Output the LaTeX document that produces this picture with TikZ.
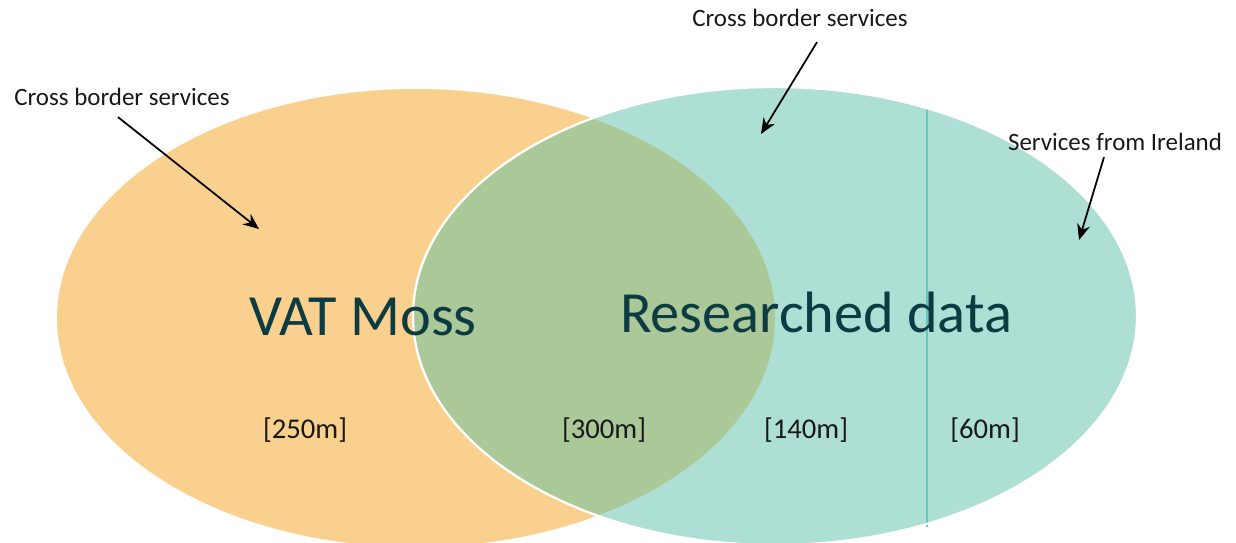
\documentclass[tikz,border=0pt]{standalone}
\usepackage{fontspec}
\setmainfont{Carlito}
\usepackage{tikz}
\usetikzlibrary{calc,arrows.meta}
\definecolor{vatorange}{HTML}{FAD08F}
\definecolor{resteal}{HTML}{AEDFD4}
\definecolor{overlapgreen}{HTML}{ABC899}
\definecolor{divteal}{HTML}{66C6B9}
\definecolor{titleteal}{HTML}{0C3B42}
\def\drawpointer{\draw[black, line width=1pt, -{Stealth[length=9pt,width=7.5pt]}]}
\def\smalllabel{\node[inner sep=0pt, font=\fontsize{14.2}{17}\selectfont, text=black!90]}
\def\biglabel{\node[inner sep=0pt, anchor=base, font=\fontsize{33.2}{39}\selectfont, text=titleteal]}
\def\amount{\node[inner sep=0pt, anchor=base, font=\fontsize{16.3}{19}\selectfont, text=black!90]}

\begin{document}
\begin{tikzpicture}[x=0.2mm,y=-0.2mm]
\useasboundingbox (0,0) rectangle (1236,542);
\clip (0,0) rectangle (1236,542);

% centres of the two sets
\coordinate (vat) at (416,318);
\coordinate (res) at (775,316);

% -------- the two ellipses ---------
\fill[vatorange] (vat) ellipse (71.8mm and 45.8mm);
\fill[resteal] (res) ellipse (72.4mm and 45.8mm);
\begin{scope}
  \clip (vat) ellipse (71.8mm and 45.8mm);
  \fill[overlapgreen] (res) ellipse (72.4mm and 45.8mm); % common part
\end{scope}
\coordinate (div_top) at ($ (res) + (152,-207) $);
\coordinate (div_bot) at ($ (res) + (152,211) $);
\draw[divteal, line width=1.1pt] (div_top) -- (div_bot);
\draw[white, line width=1.3pt] (res) ellipse (72.4mm and 45.8mm); % outer boundary
% ------ end ellipses ------

% set names and amounts
\biglabel (vatname) at ($ (vat) + (-53,17) $) {VAT Moss};
\biglabel (resname) at ($ (res) + (41,16) $) {Researched data};
\amount (vatonly) at ($ (vat) + (-111,120) $) {[250m]};
\amount (both) at ($ (vat) + (188,120) $) {[300m]};
\amount (resonly) at ($ (res) + (31,122) $) {[140m]};
\amount (ireland) at ($ (res) + (210,122) $) {[60m]};

% ----------the pointers
\smalllabel (lcross) at (122,97) {Cross border services};
\coordinate (lcross_tip) at (259,229);
\drawpointer ($ (lcross.south) + (-4,11) $) -- (lcross_tip);

\smalllabel (tcross) at (800,18) {Cross border services};
\coordinate (tcross_tip) at (761,134);
\drawpointer ($ (tcross.south) + (17,15) $) -- (tcross_tip);

\smalllabel (rserv) at (1115,142) {Services from Ireland};
\coordinate (rserv_tip) at (1079,240);
\drawpointer ($ (rserv.south) + (-11,6) $) -- (rserv_tip);
\end{tikzpicture}
\end{document}
